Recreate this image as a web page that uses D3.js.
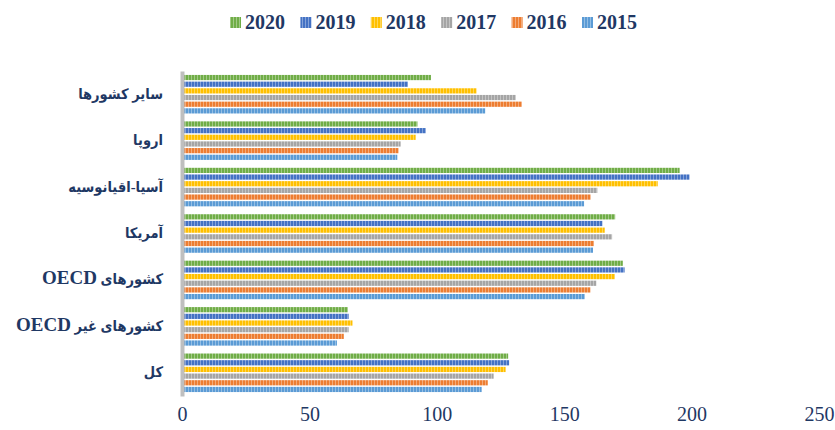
<!DOCTYPE html>
<html>
<head>
<meta charset="utf-8">
<script src="https://cdn.jsdelivr.net/npm/d3@7"></script>
<style>
  body { margin: 0; background: #fff; }
  svg { display: block; }
</style>
</head>
<body>
<svg id="canvas"></svg>
<script>
let categories = ['سایر کشورها', 'اروپا', 'آسیا-اقیانوسیه', 'آمریکا', 'کشورهای OECD', 'کشورهای غیر OECD', 'کل']
let years = ['2020', '2019', '2018', '2017', '2016', '2015']
let colors = ['#70ad47', '#4472c4', '#ffc000', '#a5a5a5', '#ed7d31', '#5b9bd5']

// one array per year, same order as categories
let v2020 = [97.7, 92.4, 195.3, 170.0, 173.0, 65.1, 128.0]
let v2019 = [88.7, 95.7, 199.2, 165.0, 173.7, 65.4, 128.4]
let v2018 = [115.6, 91.7, 186.7, 165.9, 169.9, 66.9, 127.0]
let v2017 = [131.0, 85.8, 163.0, 168.8, 162.6, 65.4, 122.3]
let v2016 = [133.4, 85.0, 160.4, 161.7, 160.3, 63.5, 120.0]
let v2015 = [119.0, 84.5, 157.8, 161.3, 158.1, 60.8, 117.6]
let series = [v2020, v2019, v2018, v2017, v2016, v2015]

let xTicks = [0, 50, 100, 150, 200, 250]

let width = 835
let height = 430
let navy = '#1f3864'

let svg = d3.select('#canvas')
svg.attr('width', width)
svg.attr('height', height)

// striped fills like the original
let defs = svg.append('defs')
years.forEach((y, i) => {
    let p = defs.append('pattern')
        .attr('id', 'pat' + y)
        .attr('patternUnits', 'userSpaceOnUse')
        .attr('width', 3)
        .attr('height', 10)
    p.append('rect').attr('width', 3).attr('height', 10).attr('fill', colors[i])
    p.append('rect').attr('x', 2).attr('width', 1).attr('height', 10)
        .attr('fill', '#fff').attr('opacity', 0.35)
})

let xScale = d3.scaleLinear()
    .domain([0, 250])
    .range([182, 819])

let yScale = d3.scaleBand()
    .domain(categories)
    .range([71, 396])
    .paddingInner(0.17)
    .paddingOuter(0.085)

let ySub = d3.scaleBand()
    .domain(years)
    .range([0, yScale.bandwidth()])
    .paddingInner(0.22)

let data = []
categories.forEach((c, ci) => {
    years.forEach((y, yi) => {
        data.push({ cat: c, year: y, value: series[yi][ci] })
    })
})

svg.selectAll('rect.bar')
    .data(data)
    .enter()
    .append('rect')
    .attr('class', 'bar')
    .attr('x', xScale(0) + 2)
    .attr('y', (d) => yScale(d.cat) + ySub(d.year))
    .attr('width', (d) => xScale(d.value) - xScale(0) - 2)
    .attr('height', ySub.bandwidth())
    .attr('fill', (d) => 'url(#pat' + d.year + ')')

// category axis
let yAxis = d3.axisLeft(yScale).tickSize(0).tickPadding(19)
let gy = svg.append('g')
    .attr('transform', 'translate(182, 0)')
    .call(yAxis)
gy.select('.domain').attr('stroke', '#bfbfbf').attr('stroke-width', 4)
gy.selectAll('text')
    .attr('direction', 'rtl')
    .attr('text-anchor', 'start')
    .attr('dy', '0.25em')
    .attr('fill', navy)
    .style('font-family', '"Liberation Serif", "DejaVu Sans Condensed", "DejaVu Sans", serif')
    .style('font-weight', 'bold')
    .style('font-size', '18px')
    .each(function () {
        // the Persian part is set in a smaller size than the Latin part
        let t = d3.select(this)
        let s = t.text()
        t.text(null)
        s.split(/(OECD)/).filter((p) => p.length).forEach((p) => {
            t.append('tspan')
                .style('font-size', p === 'OECD' ? '19px' : '14.5px')
                .text(p)
        })
    })

// value axis: labels only
let xAxis = d3.axisBottom(xScale).tickValues(xTicks).tickSize(0).tickPadding(0)
let gx = svg.append('g')
    .attr('transform', 'translate(0, 407)')
    .call(xAxis)
gx.select('.domain').remove()
gx.selectAll('text')
    .attr('fill', navy)
    .style('font-family', '"Liberation Serif", serif')
    .style('font-size', '20px')

// legend
let legend = svg.append('g')
years.forEach((y, i) => {
    let gx0 = 230 + i * 70.4
    legend.append('rect')
        .attr('x', gx0).attr('y', 17)
        .attr('width', 11).attr('height', 11)
        .attr('fill', 'url(#pat' + y + ')')
    legend.append('text')
        .attr('x', gx0 + 15).attr('y', 29)
        .attr('fill', navy)
        .style('font-family', '"Liberation Serif", serif')
        .style('font-weight', 'bold')
        .style('font-size', '20px')
        .text(y)
})
</script>
</body>
</html>
